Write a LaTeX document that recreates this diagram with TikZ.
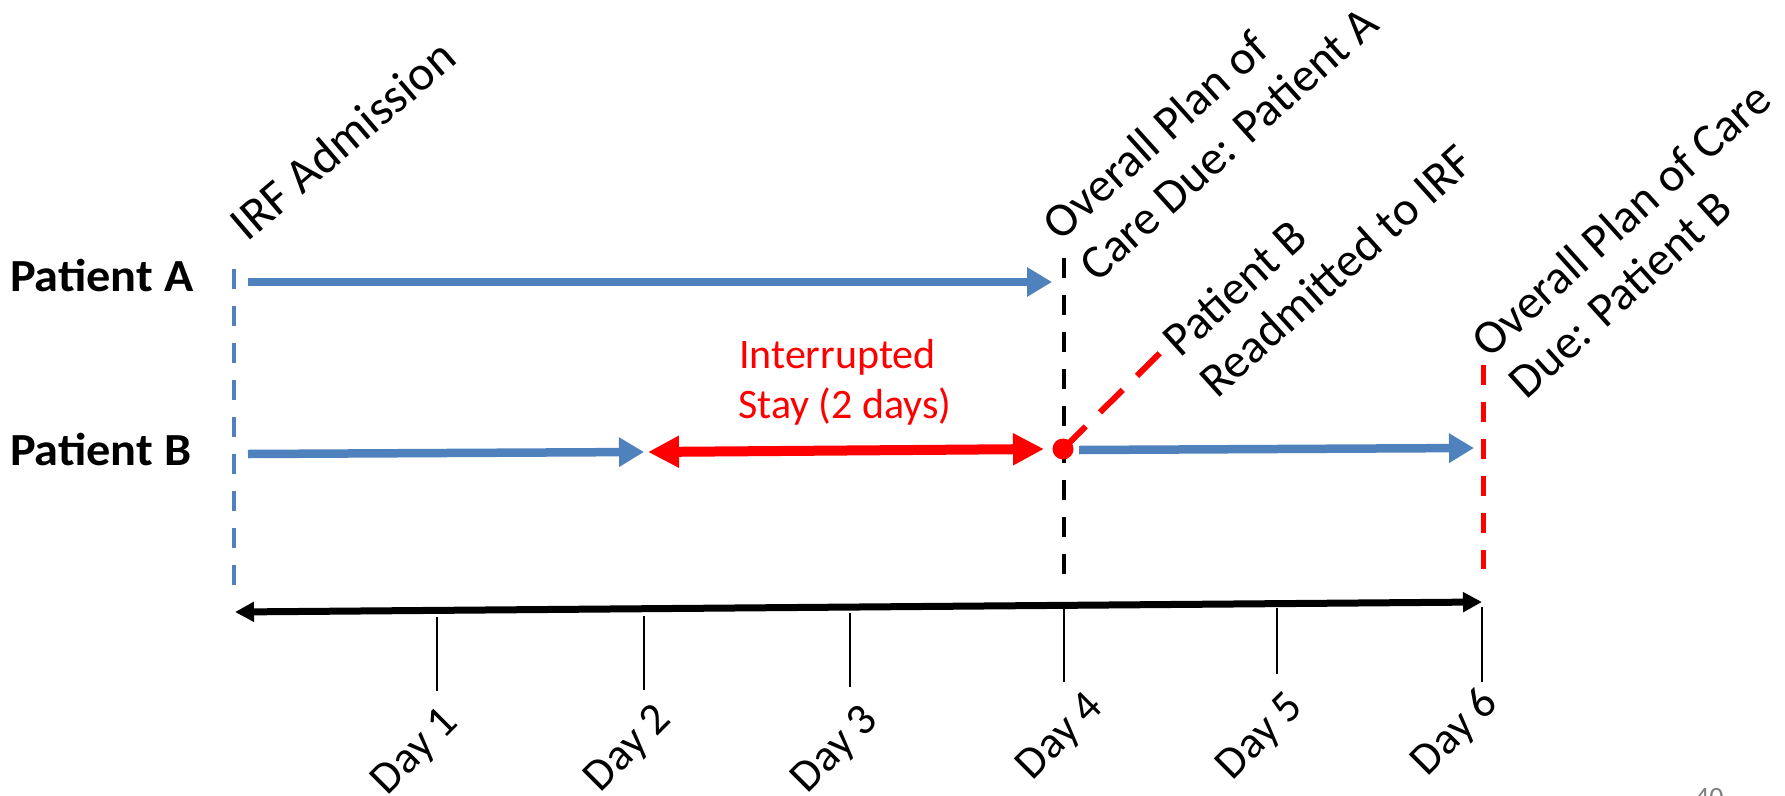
\documentclass[tikz,border=0pt]{standalone}
\usepackage{fontspec}
\setmainfont{Carlito}
\usetikzlibrary{arrows.meta}
\definecolor{pblue}{RGB}{79,129,189}
\definecolor{pred}{RGB}{255,0,0}
\definecolor{pgray}{RGB}{128,128,128}
\tikzset{
  vdash/.style={line width=4.5pt, dash pattern=on 20pt off 17pt},
  bluearrow/.style={pblue, line width=8.5pt, -{Triangle[length=25pt,width=28pt]}},
  redarrow/.style={pred, line width=10pt, {Triangle[length=31pt,width=30pt]}-{Triangle[length=31pt,width=30pt]}},
  axisline/.style={black, line width=7pt, {Triangle[length=19pt,width=19pt]}-{Triangle[length=19pt,width=19pt]}},
  tickline/.style={black, line width=2pt},
  toplabel/.style={rotate=42, anchor=base west, inner sep=0pt, font=\fontsize{48}{55}\selectfont},
  daylabel/.style={rotate=45, anchor=base east, inner sep=0pt, font=\fontsize{45}{50}\selectfont},
  patient/.style={xscale=1.05, anchor=base west, inner sep=0pt, font=\fontsize{46}{52}\selectfont\bfseries},
  redtext/.style={anchor=base west, inner sep=0pt, text=pred, font=\fontsize{42}{50}\selectfont},
}
\begin{document}
\begin{tikzpicture}[x=1pt,y=-1pt]
\clip (0,0) rectangle (1785,795);
\fill[white] (0,0) rectangle (1785,795);

% coordinates
\coordinate (bluetop) at (234,269);
\coordinate (bluebot) at (234,588);
\coordinate (blacktop) at (1064,258);
\coordinate (blackbot) at (1064,578);
\coordinate (redtop) at (1483,365);
\coordinate (redbot) at (1483,569);
\coordinate (aS) at (248,282);
\coordinate (aE) at (1052,282);
\coordinate (b1S) at (248,454);
\coordinate (b1E) at (644,452);
\coordinate (rS) at (648,452);
\coordinate (rE) at (1044,449);
\coordinate (b2S) at (1079,450);
\coordinate (b2E) at (1474,448);
\coordinate (readm) at (1160,353);
\coordinate (axL) at (235,612);
\coordinate (axR) at (1482,602);

% dashed verticals
\draw[vdash, pblue] (bluetop) -- (bluebot);
\draw[vdash, black] (blacktop) -- (blackbot);
\draw[vdash, pred, line width=5pt] (redtop) -- (redbot);

% patient arrows
\draw[bluearrow] (aS) -- (aE);
\draw[bluearrow] (b1S) -- (b1E);
\draw[redarrow] (rS) -- (rE);
\draw[bluearrow] (b2S) -- (b2E);

% readmission marker
\node[circle, fill=pred, inner sep=0pt, minimum size=21pt] (dot) at (1063,449) {};
\draw[pred, line width=6pt, dash pattern=on 32pt off 20pt] (dot.center) -- (readm);

% axis and ticks
\draw[axisline] (axL) -- (axR);
\draw[tickline] (437,617) coordinate (t1a) -- (437,691) coordinate (t1b);
\draw[tickline] (644,616) coordinate (t2a) -- (644,690) coordinate (t2b);
\draw[tickline] (850,613) coordinate (t3a) -- (850,687) coordinate (t3b);
\draw[tickline] (1064,608) coordinate (t4a) -- (1064,682) coordinate (t4b);
\draw[tickline] (1277,608) coordinate (t5a) -- (1277,674) coordinate (t5b);
\draw[tickline] (1482,607) coordinate (t6a) -- (1482,682) coordinate (t6b);

% day labels
\node[daylabel] (d1) at (460,724) {Day 1};
\node[daylabel] (d2) at (673,721) {Day 2};
\node[daylabel] (d3) at (880,722) {Day 3};
\node[daylabel] (d4) at (1105,709) {Day 4};
\node[daylabel] (d5) at (1305,709) {Day 5};
\node[daylabel] (d6) at (1500,705) {Day 6};

% patient labels
\node[patient] (pa) at (10,291) {Patient A};
\node[patient] (pb) at (10,465) {Patient B};

% interrupted stay
\node[redtext] (int1) at (739,368) {Interrupted};
\node[redtext] (int2) at (738,418) {Stay (2 days)};

% top rotated labels
\node[toplabel, rotate=-1.5, font=\fontsize{49}{55}\selectfont] (irf) at (247.5,243) {IRF Admission};
\node[toplabel] (opa1) at (1060.7,242.3) {Overall Plan of};
\node[toplabel] (opa2) at (1097.5,283.2) {Care Due: Patient A};
\node[toplabel] (rb1) at (1180.2,358.5) {Patient B};
\node[toplabel] (rb2) at (1217,399.4) {Readmitted to IRF};
\node[toplabel] (opb1) at (1489.5,359.5) {Overall Plan of Care};
\node[toplabel] (opb2) at (1526.3,400.4) {Due: Patient B};

% page number (cut off)
\node[anchor=base west, inner sep=0pt, text=pgray, font=\fontsize{28}{32}\selectfont] (pg) at (1695,806) {40};
\end{tikzpicture}
\end{document}
